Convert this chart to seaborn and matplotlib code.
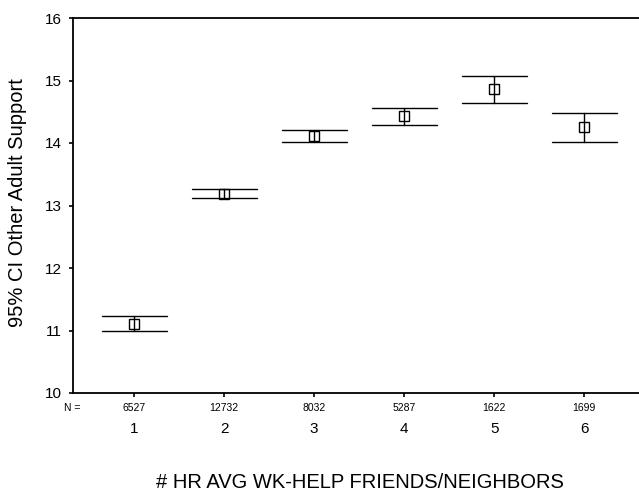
import matplotlib
matplotlib.use("Agg")
import matplotlib.pyplot as plt
import seaborn as sns
import pandas as pd

# values
groups = ["1", "2", "3", "4", "5", "6"]
n_values = [6527, 12732, 8032, 5287, 1622, 1699]
means = [11.10, 13.19, 14.11, 14.43, 14.86, 14.26]
ci_low = [10.99, 13.12, 14.02, 14.29, 14.64, 14.02]
ci_high = [11.23, 13.26, 14.21, 14.56, 15.07, 14.48]
y_ticks = [10, 11, 12, 13, 14, 15, 16]


def build_frame():
    """Long form table: low / mean / high per group, so median = mean and
    the 100% percentile interval spans the CI."""
    rows = []
    for g, lo, m, hi in zip(groups, ci_low, means, ci_high):
        for v in (lo, m, hi):
            rows.append((g, v))
    return pd.DataFrame(rows, columns=["group", "support"])


sns.set_style("ticks")
plt.rcParams["font.family"] = ["Liberation Sans", "DejaVu Sans"]
plt.rcParams.update({
    "text.color": "black",
    "axes.labelcolor": "black",
    "xtick.color": "black",
    "ytick.color": "black",
})

df = build_frame()

fig = plt.figure(figsize=(6.39, 4.95), dpi=100)
ax = fig.add_axes([73 / 639, 102 / 495, 566 / 639, 375 / 495])

sns.pointplot(
    data=df, x="group", y="support", order=groups,
    estimator="median", errorbar=("pi", 100),
    color="black", linestyle="none", markers="s", capsize=0.72,
    err_kws={"linewidth": 1.0, "color": "black"},
    markersize=6.5, markerfacecolor="none", markeredgecolor="black",
    markeredgewidth=1.0, ax=ax,
)

ax.set_ylim(10, 16)
ax.set_xlim(-0.68, 5.61)
ax.set_yticks(y_ticks)
ax.tick_params(axis="y", labelsize=11, length=3, width=1.2, pad=5, direction="out")
ax.tick_params(axis="x", labelsize=11, length=3, width=1.2, pad=18, direction="out")

for side in ["left", "bottom", "top"]:
    ax.spines[side].set_visible(True)
    ax.spines[side].set_linewidth(1.3)
    ax.spines[side].set_color("black")
ax.spines["right"].set_visible(False)

# N row under the axis
for i, n in enumerate(n_values):
    ax.text(i, -0.04, str(n), transform=ax.get_xaxis_transform(),
            ha="center", va="center", fontsize=7.5)
ax.text(-0.002, -0.04, "N =", transform=ax.transAxes,
        ha="center", va="center", fontsize=7.5)

ax.set_xlabel("")
ax.set_ylabel("95% CI Other Adult Support", fontsize=14.5)
ax.yaxis.set_label_coords(-0.082, 0.507)
fig.text(360 / 639, 12 / 495, "# HR AVG WK-HELP FRIENDS/NEIGHBORS",
         ha="center", va="center", fontsize=14.5)

fig.savefig("out.png", dpi=100)
